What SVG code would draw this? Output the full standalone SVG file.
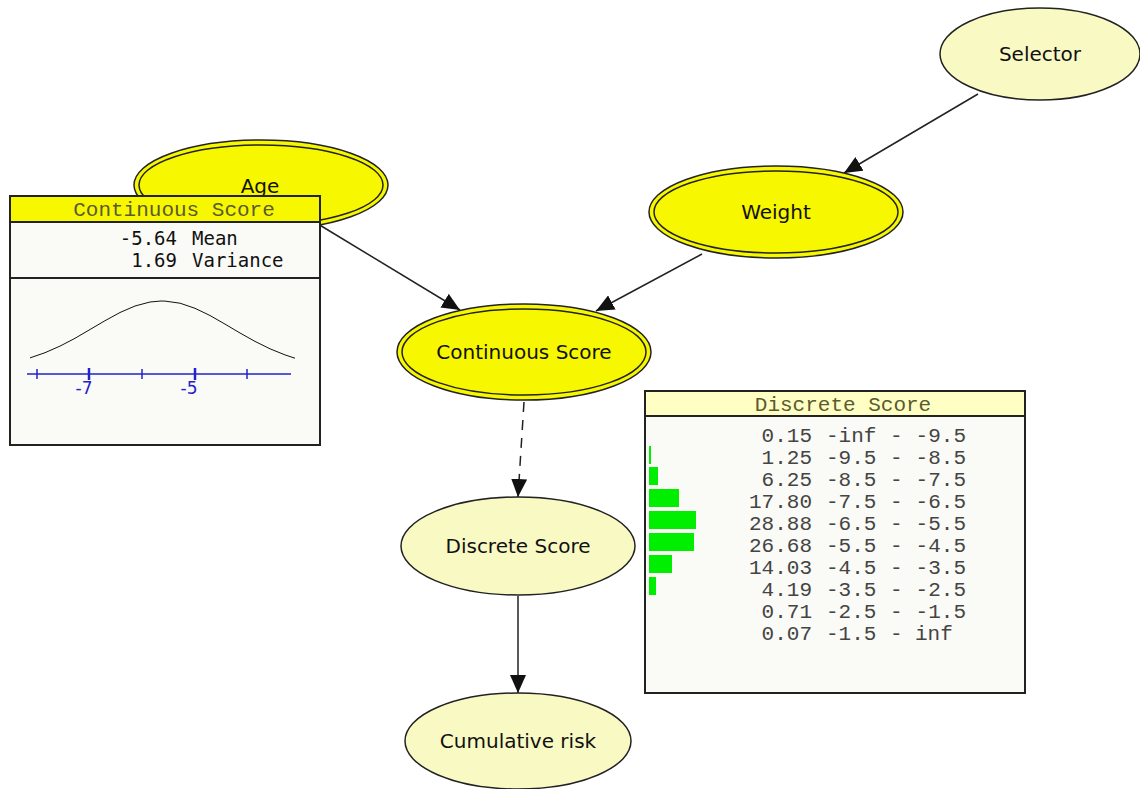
<svg xmlns="http://www.w3.org/2000/svg" width="1140" height="789" viewBox="0 0 1140 789">
<style>
.lbl{font-family:"DejaVu Sans","Liberation Sans",sans-serif;font-size:20px;fill:#111;text-anchor:middle}
.pale{fill:#f9f9c4;stroke:#222;stroke-width:1.5}
.bright{fill:#f7f700;stroke:#222;stroke-width:1.5}
.inner{fill:none;stroke:#222;stroke-width:1.5}
.edge{stroke:#222;stroke-width:1.5;fill:none}
.box{fill:#fafaf6;stroke:#222;stroke-width:2}
.hdr{font-family:"Liberation Mono",monospace;font-size:21px;fill:#5a5a30;text-anchor:middle}
.mono{font-family:"DejaVu Sans Mono",monospace;font-size:19px;fill:#111}
.row{font-family:"Liberation Mono",monospace;font-size:21px;fill:#444}
.r{text-anchor:end}
.bar{fill:#00ee00}
</style>
<defs>
<marker id="arr" markerUnits="userSpaceOnUse" markerWidth="20" markerHeight="16" refX="18" refY="8" orient="auto">
<path d="M0,0 L18,8 L0,16 Z" fill="#111"/>
</marker>
</defs>
<rect width="1140" height="789" fill="#fff"/>
<g id="connectors">
<line class="edge" x1="978" y1="94" x2="844" y2="173" marker-end="url(#arr)"/>
<line class="edge" x1="318" y1="224" x2="460" y2="310" marker-end="url(#arr)"/>
<line class="edge" x1="702" y1="254" x2="596" y2="311" marker-end="url(#arr)"/>
<line class="edge" x1="524" y1="402" x2="518" y2="497" stroke-dasharray="10,8" marker-end="url(#arr)"/>
<line class="edge" x1="518" y1="596" x2="518" y2="693" marker-end="url(#arr)"/>
</g>
<g id="node-selector">
<ellipse class="pale" cx="1040" cy="54" rx="100" ry="46"/>
<text class="lbl" x="1040" y="61">Selector</text>
</g>
<g id="node-weight">
<ellipse class="bright" cx="776" cy="212" rx="127" ry="46"/>
<ellipse class="inner" cx="776" cy="212" rx="122" ry="41"/>
<text class="lbl" x="776" y="219">Weight</text>
</g>
<g id="node-age">
<ellipse class="bright" cx="261" cy="185" rx="127" ry="45"/>
<ellipse class="inner" cx="261" cy="185" rx="122" ry="40"/>
<text class="lbl" x="260" y="193">Age</text>
</g>
<g id="node-continuous">
<ellipse class="bright" cx="524" cy="352" rx="127" ry="48"/>
<ellipse class="inner" cx="524" cy="352" rx="122" ry="43"/>
<text class="lbl" x="524" y="359">Continuous Score</text>
</g>
<g id="node-discrete">
<ellipse class="pale" cx="518" cy="546" rx="117" ry="49"/>
<text class="lbl" x="518" y="553">Discrete Score</text>
</g>
<g id="node-cumulative">
<ellipse class="pale" cx="518" cy="741" rx="113" ry="48"/>
<text class="lbl" x="518" y="748">Cumulative risk</text>
</g>
<g id="box-continuous">
<rect class="box" x="10" y="196" width="310" height="249"/>
<rect x="10" y="196" width="310" height="26" fill="#f7f700" stroke="#222" stroke-width="2"/>
<text class="hdr" x="174" y="216">Continuous Score</text>
<text class="mono r" x="177" y="245">-5.64</text>
<text class="mono" x="192" y="245">Mean</text>
<text class="mono r" x="177" y="267">1.69</text>
<text class="mono" x="192" y="267">Variance</text>
<line x1="10" y1="278" x2="320" y2="278" stroke="#222" stroke-width="2"/>
<polyline fill="none" stroke="#111" stroke-width="1" points="30,357.9 45,352.7 60,346.1 75,338.3 90,329.5 105,320.7 120,312.5 135,306 150,302 161,301 165,301.1 180,303.2 195,308.3 210,315.5 225,324.1 240,333 255,341.4 270,348.8 285,354.9 295,358.2"/>
<g stroke="#2222cc" stroke-width="1.5">
<line x1="27" y1="374" x2="291" y2="374"/>
<line x1="37" y1="369" x2="37" y2="379"/>
<line x1="89" y1="368" x2="89" y2="380" stroke-width="2.5"/>
<line x1="142" y1="369" x2="142" y2="379"/>
<line x1="195" y1="368" x2="195" y2="380" stroke-width="2.5"/>
<line x1="247" y1="369" x2="247" y2="379"/>
</g>
<text x="84" y="394" font-family="DejaVu Sans,sans-serif" font-size="17" fill="#2222cc" text-anchor="middle">-7</text>
<text x="189" y="394" font-family="DejaVu Sans,sans-serif" font-size="17" fill="#2222cc" text-anchor="middle">-5</text>
</g>
<g id="box-discrete">
<rect class="box" x="645" y="391" width="380" height="302"/>
<rect x="645" y="391" width="380" height="25" fill="#ffffc4" stroke="#222" stroke-width="2"/>
<text class="hdr" x="843" y="411">Discrete Score</text>
<rect class="bar" x="649" y="446" width="2" height="18"/>
<rect class="bar" x="649" y="467" width="9" height="18"/>
<rect class="bar" x="649" y="489" width="30" height="18"/>
<rect class="bar" x="649" y="511" width="47" height="18"/>
<rect class="bar" x="649" y="533" width="45" height="18"/>
<rect class="bar" x="649" y="555" width="23" height="18"/>
<rect class="bar" x="649" y="577" width="7" height="18"/>
<g class="row">
<text class="r" x="812" y="442">0.15</text><text x="826" y="442">-inf</text><text x="890" y="442">-</text><text class="r" x="966" y="442">-9.5</text>
<text class="r" x="812" y="464">1.25</text><text x="826" y="464">-9.5</text><text x="890" y="464">-</text><text class="r" x="966" y="464">-8.5</text>
<text class="r" x="812" y="486">6.25</text><text x="826" y="486">-8.5</text><text x="890" y="486">-</text><text class="r" x="966" y="486">-7.5</text>
<text class="r" x="812" y="508">17.80</text><text x="826" y="508">-7.5</text><text x="890" y="508">-</text><text class="r" x="966" y="508">-6.5</text>
<text class="r" x="812" y="530">28.88</text><text x="826" y="530">-6.5</text><text x="890" y="530">-</text><text class="r" x="966" y="530">-5.5</text>
<text class="r" x="812" y="552">26.68</text><text x="826" y="552">-5.5</text><text x="890" y="552">-</text><text class="r" x="966" y="552">-4.5</text>
<text class="r" x="812" y="574">14.03</text><text x="826" y="574">-4.5</text><text x="890" y="574">-</text><text class="r" x="966" y="574">-3.5</text>
<text class="r" x="812" y="596">4.19</text><text x="826" y="596">-3.5</text><text x="890" y="596">-</text><text class="r" x="966" y="596">-2.5</text>
<text class="r" x="812" y="618">0.71</text><text x="826" y="618">-2.5</text><text x="890" y="618">-</text><text class="r" x="966" y="618">-1.5</text>
<text class="r" x="812" y="640">0.07</text><text x="826" y="640">-1.5</text><text x="890" y="640">-</text><text x="915" y="640">inf</text>
</g>
</g>
</svg>
